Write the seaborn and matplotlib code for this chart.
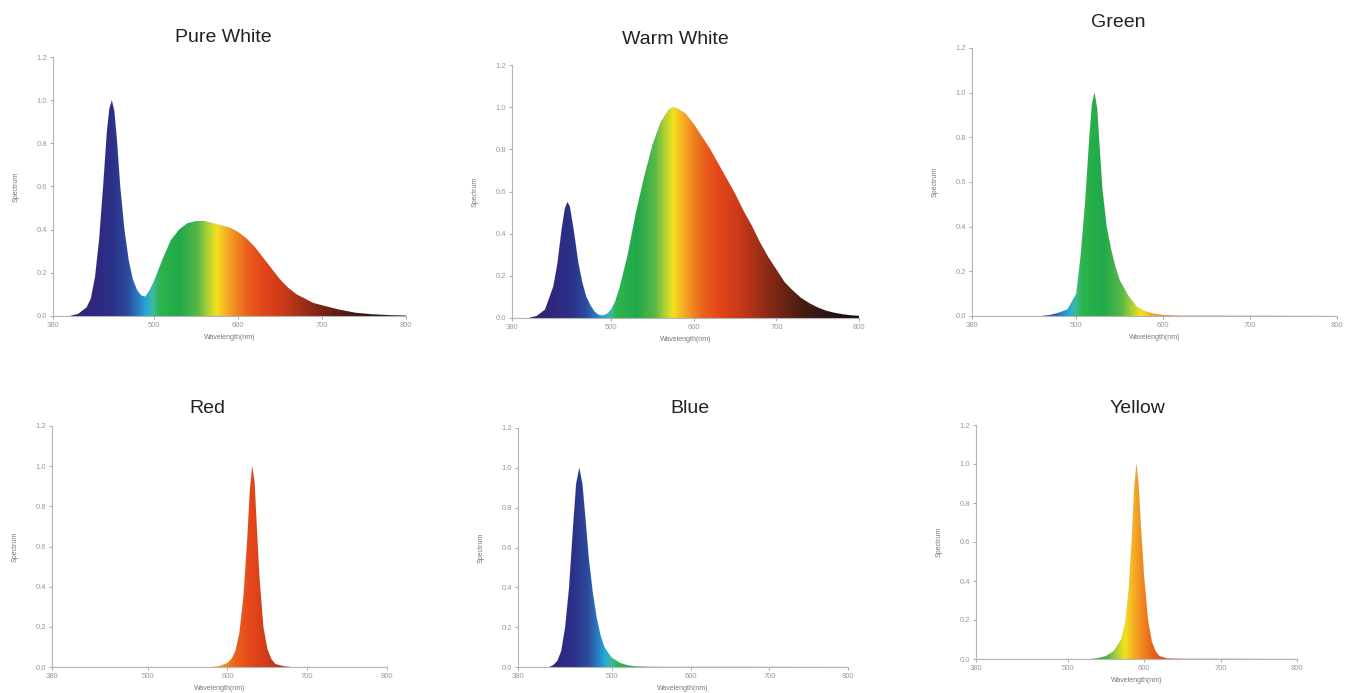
import numpy as np
import matplotlib
matplotlib.use('Agg')
import matplotlib.pyplot as plt
import seaborn as sns
from matplotlib.colors import LinearSegmentedColormap
from matplotlib.patches import PathPatch

# spectra (wavelength nm, relative intensity)
pure_wl = [380, 400, 410, 420, 425, 430, 435, 440, 444, 447, 450, 453, 456, 460, 465, 470, 475, 480, 485, 490, 495,
           500, 510, 520, 530, 540, 550, 560, 570, 580, 590, 600, 610, 620, 630, 640, 650, 660, 670,
           680, 690, 700, 720, 740, 760, 780, 800]
pure_val = [0.0, 0.0, 0.01, 0.04, 0.08, 0.18, 0.36, 0.62, 0.85, 0.96, 1.0, 0.95, 0.82, 0.6, 0.4, 0.26, 0.17, 0.12, 0.095, 0.09, 0.12,
            0.16, 0.26, 0.35, 0.4, 0.43, 0.44, 0.44, 0.43, 0.42, 0.41, 0.39, 0.36, 0.32, 0.27, 0.22, 0.17, 0.13, 0.10,
            0.08, 0.06, 0.05, 0.03, 0.015, 0.008, 0.004, 0.002]

warm_wl = [380, 400, 410, 420, 430, 435, 440, 444, 447, 450, 455, 460, 465, 470, 475, 480, 485, 490, 495,
           500, 505, 510, 520, 530, 540, 550, 560, 570, 575, 580, 590, 600, 610, 620, 630, 640, 650,
           660, 670, 680, 690, 700, 710, 720, 730, 740, 750, 760, 770, 780, 790, 800]
warm_val = [0.0, 0.0, 0.01, 0.04, 0.15, 0.26, 0.42, 0.52, 0.55, 0.53, 0.41, 0.27, 0.17, 0.1, 0.06, 0.03, 0.015, 0.012, 0.02,
            0.04, 0.08, 0.14, 0.3, 0.5, 0.67, 0.82, 0.93, 0.99, 1.0, 0.995, 0.97, 0.92, 0.86, 0.8, 0.73, 0.66, 0.59,
            0.51, 0.44, 0.36, 0.29, 0.23, 0.17, 0.13, 0.095, 0.07, 0.05, 0.035, 0.025, 0.018, 0.013, 0.01]

green_wl = [380, 460, 470, 480, 490, 500, 505, 510, 515, 518, 521, 524, 527, 530, 535, 540, 545, 550, 560, 570,
            580, 590, 600, 620, 800]
green_val = [0.0, 0.0, 0.005, 0.015, 0.03, 0.1, 0.27, 0.5, 0.8, 0.95, 1.0, 0.93, 0.75, 0.57, 0.4, 0.3, 0.22, 0.16, 0.09, 0.04,
             0.02, 0.01, 0.004, 0.001, 0.0]

red_wl = [380, 580, 590, 600, 605, 610, 615, 620, 625, 628, 631, 634, 637, 640, 645, 650, 655, 660, 670, 680, 800]
red_val = [0.0, 0.0, 0.005, 0.02, 0.04, 0.08, 0.17, 0.35, 0.65, 0.88, 1.0, 0.92, 0.68, 0.45, 0.2, 0.09, 0.04, 0.015, 0.004, 0.0, 0.0]

blue_wl = [380, 420, 425, 430, 435, 440, 445, 450, 454, 458, 462, 466, 470, 475, 480, 485, 490, 495,
           500, 510, 520, 530, 550, 800]
blue_val = [0.0, 0.0, 0.01, 0.03, 0.08, 0.2, 0.4, 0.7, 0.92, 1.0, 0.92, 0.74, 0.55, 0.38, 0.25, 0.16, 0.1, 0.07,
            0.045, 0.02, 0.008, 0.003, 0.001, 0.0]

yellow_wl = [380, 530, 540, 550, 560, 570, 575, 580, 584, 587, 590, 593, 596, 600, 605, 610, 615, 620, 630, 650, 800]
yellow_val = [0.0, 0.0, 0.005, 0.015, 0.04, 0.1, 0.18, 0.36, 0.62, 0.88, 1.0, 0.88, 0.66, 0.42, 0.2, 0.09, 0.04, 0.015, 0.003, 0.001, 0.0]

titles = ['Pure White', 'Warm White', 'Green', 'Red', 'Blue', 'Yellow']
x_ticks = [380, 500, 600, 700, 800]
y_ticks = [0.0, 0.2, 0.4, 0.6, 0.8, 1.0, 1.2]

# colour of the spectrum along the wavelength axis
stops = [(380, '#3b1d6b'), (420, '#2f2578'), (450, '#2c3088'), (468, '#2b4a9c'), (480, '#2a78c0'),
         (490, '#22a8dc'), (498, '#3fb9a0'), (507, '#2db44c'), (530, '#1fa94b'), (552, '#57b847'),
         (565, '#b5d334'), (575, '#f4e11d'), (585, '#f6b323'), (597, '#f18a21'), (612, '#ea5f1c'),
         (630, '#e4461a'), (655, '#c93a18'), (690, '#8a2a16'), (730, '#4a1c14'), (770, '#221414'),
         (800, '#111111')]
spec = LinearSegmentedColormap.from_list('spec', [((w - 380) / 420, c) for w, c in stops])

sns.set_theme(style='white')
plt.rcParams['font.family'] = ['Liberation Sans', 'DejaVu Sans']

W, H = 1356, 693
fig = plt.figure(figsize=(W / 100, H / 100), dpi=100)

# pixel boxes: left(380), right(800), top(1.2), bottom(0.0)
boxes = [(53, 406, 57, 316), (512, 859, 65, 318), (972, 1337, 48, 316),
         (52, 387, 426, 667), (518, 848, 428, 667), (976, 1297, 425, 659)]
title_pos = [(223, 42), (675, 44), (1118, 27), (207, 413), (690, 413), (1137, 413)]
series = [(pure_wl, pure_val), (warm_wl, warm_val), (green_wl, green_val),
          (red_wl, red_val), (blue_wl, blue_val), (yellow_wl, yellow_val)]

grad = np.linspace(0, 1, 600)[None, :]

for (l, r, t, b), (wl, val), title, (tx, ty) in zip(boxes, series, titles, title_pos):
    ax = fig.add_axes([l / W, 1 - b / H, (r - l) / W, (b - t) / H])
    poly = ax.fill_between(wl, val, 0, color='none', lw=0)
    im = ax.imshow(grad, extent=(380, 800, 0, 1.2), aspect='auto', cmap=spec, origin='lower', zorder=1)
    patch = PathPatch(poly.get_paths()[0], transform=ax.transData, facecolor='none', edgecolor='none')
    ax.add_patch(patch)
    im.set_clip_path(patch)
    sns.lineplot(x=wl, y=val, ax=ax, color='#666666', lw=0.3, alpha=0.2, zorder=2)
    ax.set_xlim(380, 800)
    ax.set_ylim(0, 1.2)
    ax.set_xticks(x_ticks)
    ax.set_xticklabels([str(v) for v in x_ticks])
    ax.set_yticks(y_ticks)
    ax.set_yticklabels(['%.1f' % v for v in y_ticks])
    ax.tick_params(labelsize=5.5, colors='#999999', length=2, width=0.6, direction='out',
                   bottom=True, left=True, pad=2)
    ax.set_xlabel('Wavelength(nm)', fontsize=5, color='#777777', labelpad=4)
    ax.set_ylabel('Spectrum', fontsize=5, color='#777777', labelpad=12)
    sns.despine(ax=ax)
    for s in ['left', 'bottom']:
        ax.spines[s].set_color('#b5b5b5')
        ax.spines[s].set_linewidth(0.8)
    ax.set_facecolor('white')
    fig.text(tx / W, 1 - ty / H, title, ha='center', va='baseline', fontsize=14, color='#222222')

fig.savefig('out.png', dpi=100, facecolor='white')
